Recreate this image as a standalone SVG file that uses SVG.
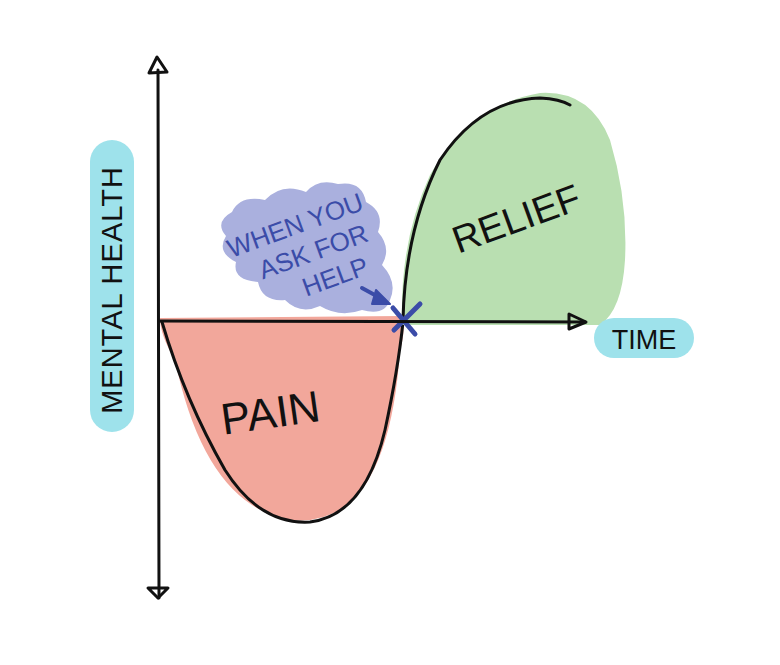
<svg xmlns="http://www.w3.org/2000/svg" width="780" height="665" viewBox="0 0 780 665">
<style>
.ink{fill:none;stroke:#111;stroke-width:3;stroke-linecap:round;stroke-linejoin:round}
.hand{font-family:"Liberation Sans","DejaVu Sans",sans-serif;fill:#111}
.blue{font-family:"Liberation Sans","DejaVu Sans",sans-serif;fill:#3B4CA8}
</style>
<rect width="780" height="665" fill="#fff"/>
<g id="pain">
<path d="M160 318 L402 316 Q406 330 400 350 Q392 470 345 507 Q300 535 252 505 Q198 470 175 360 Q160 335 160 318 Z" fill="#F2A79B"/>
<path class="ink" d="M162 322 Q185 400 225 470 Q260 525 310 522 Q365 515 385 430 Q398 370 403 322"/>
<text class="hand" x="270" y="428" font-size="44" text-anchor="middle" transform="rotate(-8 270 410)">PAIN</text>
</g>
<g id="relief">
<path d="M402 320 Q400 240 430 175 Q470 105 540 93 Q590 90 610 140 Q628 200 625 260 Q622 310 600 325 L402 325 Z" fill="#B9DFB1"/>
<path class="ink" d="M403 320 Q405 230 440 160 Q480 100 540 98 Q560 99 570 105"/>
<text class="hand" x="515" y="232" font-size="38" text-anchor="middle" transform="rotate(-20 515 215)">RELIEF</text>
</g>
<g id="mental-health">
<rect x="90" y="140" width="44" height="292" rx="22" fill="#9EE2EB"/>
<text class="hand" x="0" y="0" font-size="29" text-anchor="middle" letter-spacing="1" transform="translate(122 290) rotate(-90)">MENTAL HEALTH</text>
</g>
<g id="time">
<rect x="594" y="318" width="100" height="40" rx="20" fill="#9EE2EB"/>
<text class="hand" x="644" y="349" font-size="27" text-anchor="middle">TIME</text>
</g>
<g id="help">
<path d="M232 212 Q240 195 265 200 Q282 182 306 192 Q318 178 338 184 Q362 180 366 202 Q385 212 378 232 Q392 248 382 265 Q398 282 390 300 Q385 316 362 310 Q340 318 320 306 Q300 315 285 300 Q262 302 258 282 Q232 280 236 262 Q216 252 226 236 Q214 222 232 212 Z" fill="#AAB0DE"/>
<g transform="rotate(-20 300 250)">
<text class="blue" x="304" y="234" font-size="26" text-anchor="middle">WHEN YOU</text>
<text class="blue" x="312" y="265" font-size="26" text-anchor="middle">ASK FOR</text>
<text class="blue" x="324" y="296" font-size="26" text-anchor="middle">HELP</text>
</g>
<path d="M362 288 L384 300" stroke="#3B4CA8" stroke-width="4" stroke-linecap="round"/>
<path d="M376 290 L390 304 L372 304 Z" fill="#3B4CA8" stroke="#3B4CA8" stroke-width="2" stroke-linejoin="round"/>
<path d="M393 308 L415 334 M420 304 L394 330" stroke="#3B4CA8" stroke-width="5" stroke-linecap="round"/>
</g>
<g id="connectors">
<path class="ink" d="M158 70 L159 598"/>
<path class="ink" d="M157 57 L149 73 L167 72 Z"/>
<path class="ink" d="M148 588 L158 598 L168 588 Z"/>
<path class="ink" d="M160 321 L585 322"/>
<path class="ink" d="M569 314 L586 322 L569 329 Z"/>
</g>
</svg>
